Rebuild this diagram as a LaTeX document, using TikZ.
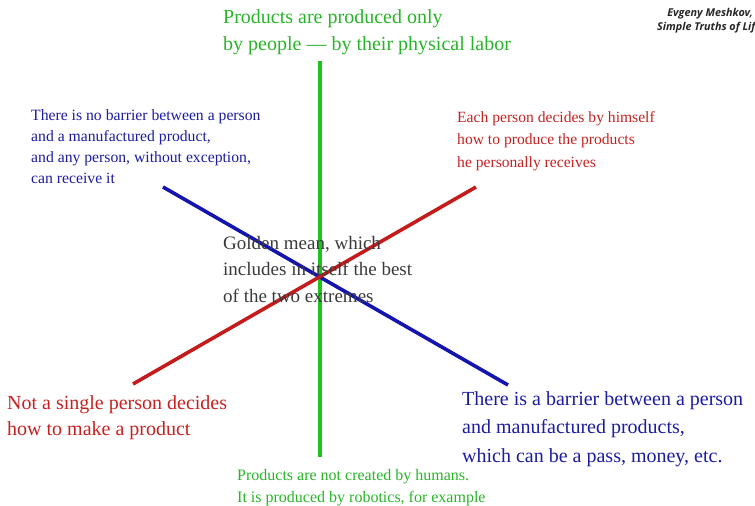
\documentclass[tikz,border=0pt]{standalone}
\usepackage{fontspec}
\setmainfont{Liberation Serif}
\newfontfamily\signfont{Open Sans}
\usepackage{tikz}
\usetikzlibrary{positioning}
\usepackage{xcolor}
\definecolor{laborgreen}{RGB}{30,196,30}
\definecolor{labortext}{RGB}{40,180,40}
\definecolor{barrierblue}{RGB}{20,20,175}
\definecolor{barriertext}{RGB}{28,28,160}
\definecolor{decidered}{RGB}{196,28,28}
\definecolor{decidetext}{RGB}{196,34,34}
\definecolor{meangray}{RGB}{58,58,58}
\tikzset{
  axisline/.style={line width=3.6pt, draw=#1},
  note/.style={
    inner sep=0pt, anchor=north west, align=left, text=#1
  },
  sign/.style={
    inner sep=0pt, font=\signfont\bfseries\itshape\fontsize{10.8}{14}\selectfont,
    text=black!85
  }
}

\begin{document}
\begin{tikzpicture}[x=1pt, y=-1pt]
  \useasboundingbox (0,0) rectangle (755,506);
  % ends of the three axes
  \coordinate (labor) at (320,61);
  \coordinate (robots) at (320,457);
  \coordinate (open) at (163,187);
  \coordinate (barrier) at (508,385);
  \coordinate (self) at (476,187);
  \coordinate (nobody) at (133,384);
  \draw[axisline=laborgreen] (labor) -- (robots);
  \draw[axisline=barrierblue] (open) -- (barrier);
  \draw[axisline=decidered] (nobody) -- (self);
  % texts at the ends
  \node[note=labortext, font=\fontsize{20}{27}\selectfont]
    (laborTxt) at (223,9) {Products are produced only\\by people --- by their physical labor};
  \node[note=labortext, font=\fontsize{16}{22}\selectfont]
    (robotsTxt) at (237,469) {Products are not created by humans.\\It is produced by robotics, for example};
  \node[note=barriertext, font=\fontsize{15.7}{21}\selectfont]
    (openTxt) at (31,109) {There is no barrier between a person\\and a manufactured product,\\and any person, without exception,\\can receive it};
  \node[note=barriertext, font=\fontsize{20}{28.5}\selectfont]
    (barrierTxt) at (462,391) {There is a barrier between a person\\and manufactured products,\\which can be a pass, money, etc.};
  \node[note=decidetext, font=\fontsize{15.6}{22.5}\selectfont]
    (selfTxt) at (457,111) {Each person decides by himself\\how to produce the products\\he personally receives};
  \node[note=decidetext, font=\fontsize{20}{26}\selectfont]
    (nobodyTxt) at (7,395) {Not a single person decides\\how to make a product};
  \node[note=meangray, font=\fontsize{19}{26.5}\selectfont]
    (mean) at (223,236) {Golden mean, which\\includes in itself the best\\of the two extremes};
  % signature, cut by the edge
  \node[sign, anchor=east] (author) at (753,14) {Evgeny Meshkov,};
  \node[sign, anchor=west] (book) at (657,28) {Simple Truths of Life};
\end{tikzpicture}
\end{document}
